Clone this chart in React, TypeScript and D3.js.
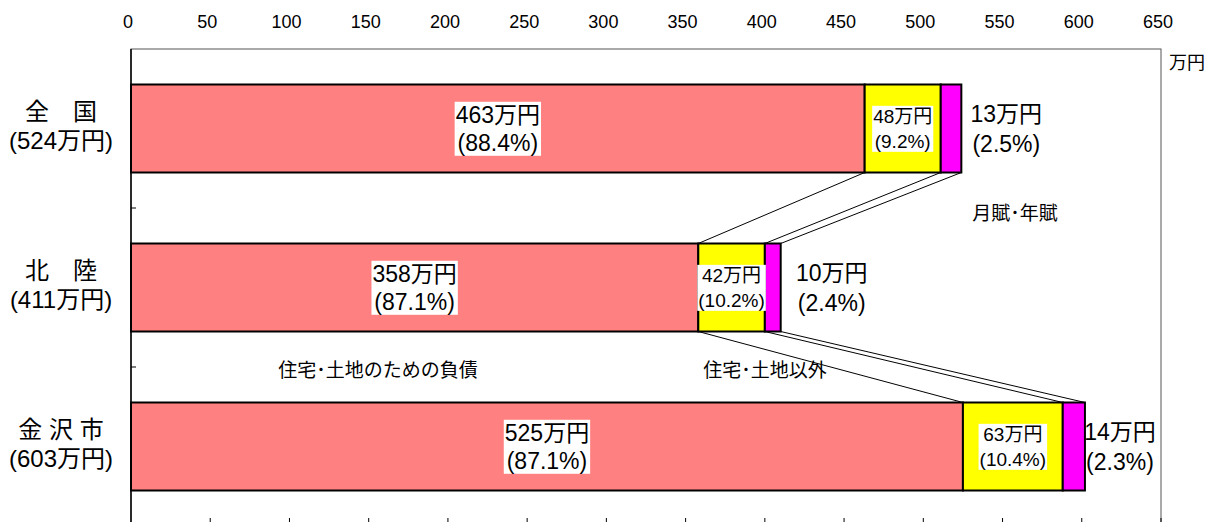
import React, { useEffect, useRef } from "react"
import * as d3 from "d3"

const categories = ["全国", "北陸", "金沢市"]
const categoryNames = ["全　国", "北　陸", "金 沢 市"]
const totals = [524, 411, 603]
const housingDebt = [463, 358, 525]
const housingPct = [88.4, 87.1, 87.1]
const otherDebt = [48, 42, 63]
const otherPct = [9.2, 10.2, 10.4]
const installment = [13, 10, 14]
const installmentPct = [2.5, 2.4, 2.3]
const xTicks = [0, 50, 100, 150, 200, 250, 300, 350, 400, 450, 500, 550, 600, 650]

const W = 1217
const H = 522
const FONT = "'Liberation Sans', Arial, 'Noto Sans CJK JP', sans-serif"

// where the installment labels sit, offset from the end of each bar
const installmentDx = [45, 51, 35]

const App: React.FC = () => {
  const svgRef = useRef<SVGSVGElement>(null)

  useEffect(() => {
    if (!svgRef.current) return
    const svg = d3.select(svgRef.current)
    svg.selectAll("*").remove()

    const x = d3.scaleLinear().domain([0, 650]).range([131, 1161])
    const y = d3
      .scaleBand<string>()
      .domain(categories)
      .range([49, 526])
      .paddingInner(0.4465)
      .paddingOuter(0.22325)
    const step = y.step()
    const bw = y.bandwidth()

    // frame
    svg.append("rect")
      .attr("x", x(0)).attr("y", 49)
      .attr("width", x(650) - x(0)).attr("height", 477)
      .attr("fill", "none").attr("stroke", "#555").attr("stroke-width", 1)
    svg.append("line")
      .attr("x1", x(0)).attr("x2", x(0)).attr("y1", 49).attr("y2", 526)
      .attr("stroke", "#000").attr("stroke-width", 1.5)

    // top tick labels
    svg.append("g").selectAll("text").data(xTicks).enter().append("text")
      .attr("x", (d) => x(d) - 3).attr("y", 28)
      .attr("text-anchor", "middle")
      .attr("font-size", 18).attr("font-family", FONT)
      .text((d) => d)

    // bottom tick marks
    svg.append("g").selectAll("line").data(xTicks.slice(1)).enter().append("line")
      .attr("x1", (d) => x(d)).attr("x2", (d) => x(d))
      .attr("y1", 518).attr("y2", 526)
      .attr("stroke", "#000").attr("stroke-width", 1)

    // category boundary ticks
    svg.append("g").selectAll("line").data([1, 2]).enter().append("line")
      .attr("x1", x(0)).attr("x2", x(0) + 5)
      .attr("y1", (d) => 49 + step * d).attr("y2", (d) => 49 + step * d)
      .attr("stroke", "#000").attr("stroke-width", 1)

    svg.append("text")
      .attr("x", 1169).attr("y", 69)
      .attr("font-size", 18).attr("font-family", FONT)
      .text("万円")

    // connector lines between bars
    for (let i = 0; i < categories.length - 1; i++) {
      const y1 = (y(categories[i]) as number) + bw
      const y2 = y(categories[i + 1]) as number
      const ends = (k: number) => [
        housingDebt[k],
        housingDebt[k] + otherDebt[k],
        housingDebt[k] + otherDebt[k] + installment[k],
      ]
      const a = ends(i)
      const b = ends(i + 1)
      a.forEach((v, j) => {
        svg.append("line")
          .attr("x1", x(v)).attr("y1", y1)
          .attr("x2", x(b[j])).attr("y2", y2)
          .attr("stroke", "#000").attr("stroke-width", 1)
      })
    }

    const labelBox = (
      g: d3.Selection<SVGGElement, unknown, null, undefined>,
      cx: number,
      cy: number,
      lines: string[],
      size: number,
      lineH: number,
      boxed: boolean
    ) => {
      const t = g.append("text")
        .attr("text-anchor", "middle")
        .attr("font-size", size).attr("font-family", FONT)
      lines.forEach((s, k) => {
        t.append("tspan")
          .attr("x", cx)
          .attr("y", cy + (k - (lines.length - 1) / 2) * lineH + size * 0.36)
          .text(s)
      })
      if (boxed) {
        const bb = (t.node() as SVGTextElement).getBBox()
        g.insert("rect", "text")
          .attr("x", bb.x - 1).attr("y", bb.y)
          .attr("width", bb.width + 2).attr("height", bb.height)
          .attr("fill", "#fff")
      }
    }

    categories.forEach((c, i) => {
      const top = y(c) as number
      const cy = top + bw / 2
      const x0 = x(0)
      const x1 = x(housingDebt[i])
      const x2 = x(housingDebt[i] + otherDebt[i])
      const x3 = x(housingDebt[i] + otherDebt[i] + installment[i])

      const g = svg.append("g")
      g.append("rect").attr("x", x0).attr("y", top).attr("width", x1 - x0).attr("height", bw)
        .attr("fill", "#FF8080").attr("stroke", "#000").attr("stroke-width", 2)
      g.append("rect").attr("x", x1).attr("y", top).attr("width", x2 - x1).attr("height", bw)
        .attr("fill", "#FFFF00").attr("stroke", "#000").attr("stroke-width", 2)
      g.append("rect").attr("x", x2).attr("y", top).attr("width", x3 - x2).attr("height", bw)
        .attr("fill", "#FF00FF").attr("stroke", "#000").attr("stroke-width", 2)

      const lg1 = svg.append("g")
      labelBox(lg1, (x0 + x1) / 2, cy, [`${housingDebt[i]}万円`, `(${housingPct[i].toFixed(1)}%)`], 23, 28, true)
      const lg2 = svg.append("g")
      labelBox(lg2, (x1 + x2) / 2, cy, [`${otherDebt[i]}万円`, `(${otherPct[i].toFixed(1)}%)`], 19, 25, true)
      const lg3 = svg.append("g")
      labelBox(lg3, x3 + installmentDx[i], cy, [`${installment[i]}万円`, `(${installmentPct[i].toFixed(1)}%)`], 23, 30, false)

      const lg4 = svg.append("g")
      labelBox(lg4, 61, cy - 3, [categoryNames[i], `(${totals[i]}万円)`], 24, 29, false)
    })

    const notes = [
      { t: "月賦･年賦", x: 1015, y: 213 },
      { t: "住宅･土地のための負債", x: 378, y: 370 },
      { t: "住宅･土地以外", x: 765, y: 370 },
    ]
    svg.append("g").selectAll("text").data(notes).enter().append("text")
      .attr("x", (d) => d.x).attr("y", (d) => d.y + 7)
      .attr("text-anchor", "middle")
      .attr("font-size", 19).attr("font-family", FONT)
      .text((d) => d.t)
  }, [])

  return (
    <svg
      ref={svgRef}
      width={W}
      height={H}
      style={{ position: "absolute", left: 0, top: 0, background: "#fff" }}
    />
  )
}

export default App
